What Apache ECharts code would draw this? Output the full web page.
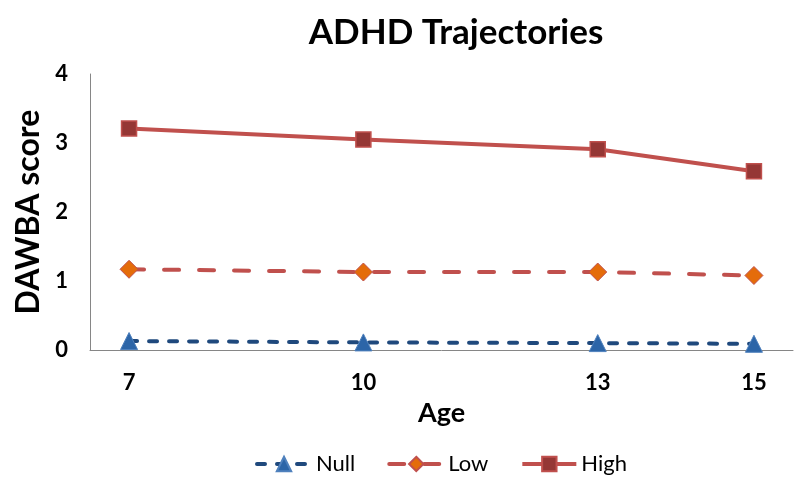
<!DOCTYPE html>
<html><head><meta charset="utf-8">
<script src="https://cdn.jsdelivr.net/npm/echarts@6/dist/echarts.min.js"></script>
<style>html,body{margin:0;padding:0;background:#fff}#c{width:800px;height:488px}</style>
</head><body><div id="c"></div>
<script>
const ages = [7, 10, 13, 15];
const xTicks = [7, 10, 13, 15];
const yTicks = [0, 1, 2, 3, 4];
const nullVals = [0.13, 0.11, 0.10, 0.09];
const lowVals = [1.17, 1.13, 1.13, 1.08];
const highVals = [3.21, 3.05, 2.91, 2.59];
const FONT = 'Lato';
const pairs = v => ages.map((a, i) => [a, v[i]]);
const chart = echarts.init(document.getElementById('c'), null, {renderer: 'canvas'});
chart.setOption({
  animation: false,
  backgroundColor: '#fff',
  title: {text: 'ADHD Trajectories', left: 451, top: 10, textAlign: 'center',
    textStyle: {fontFamily: FONT, fontWeight: 'bold', fontSize: 35, color: '#000'}},
  grid: {left: 90, right: 7, top: 74, bottom: 138, outerBoundsMode: 'none', containLabel: false},
  legend: {bottom: 8, left: 250, itemWidth: 54, itemHeight: 18, itemGap: 32,
    lineStyle: {width: 4},
    textStyle: {fontFamily: FONT, fontSize: 22, color: '#000'},
    data: ['Null', 'Low', 'High']},
  xAxis: {type: 'value', min: 6.5, max: 15.5,
    name: 'Age', nameLocation: 'middle', nameGap: 50,
    nameTextStyle: {fontFamily: FONT, fontWeight: 'bold', fontSize: 27, color: '#000'},
    axisLine: {show: true, lineStyle: {color: '#868686', width: 1}},
    axisTick: {show: false}, splitLine: {show: false},
    axisLabel: {customValues: xTicks, margin: 22, fontFamily: FONT, fontWeight: 'bold', fontSize: 22, color: '#000'}},
  yAxis: {type: 'value', min: 0, max: 4, interval: 1,
    name: 'DAWBA score', nameLocation: 'middle', nameGap: 43, nameRotate: 90,
    nameTextStyle: {fontFamily: FONT, fontWeight: 'bold', fontSize: 32, color: '#000'},
    axisLine: {show: true, lineStyle: {color: '#868686', width: 1}},
    axisTick: {show: false}, splitLine: {show: false},
    axisLabel: {customValues: yTicks, margin: 22, fontFamily: FONT, fontWeight: 'bold', fontSize: 22, color: '#000'}},
  series: [
    {name: 'Null', type: 'line', data: pairs(nullVals), symbol: 'triangle', symbolSize: 17,
      lineStyle: {color: '#1f497d', width: 4, type: [8, 12], cap: 'round'},
      itemStyle: {color: '#2c65a8', borderColor: '#4f81bd', borderWidth: 1}},
    {name: 'Low', type: 'line', data: pairs(lowVals), symbol: 'diamond', symbolSize: 18,
      lineStyle: {color: '#c0504d', width: 4, type: [15, 20], cap: 'round'},
      itemStyle: {color: '#e46c0a', borderColor: '#c0504d', borderWidth: 1}},
    {name: 'High', type: 'line', data: pairs(highVals), symbol: 'rect', symbolSize: 15,
      lineStyle: {color: '#c0504d', width: 4},
      itemStyle: {color: '#953735', borderColor: '#c0504d', borderWidth: 1.5}}
  ]
});
</script></body></html>
